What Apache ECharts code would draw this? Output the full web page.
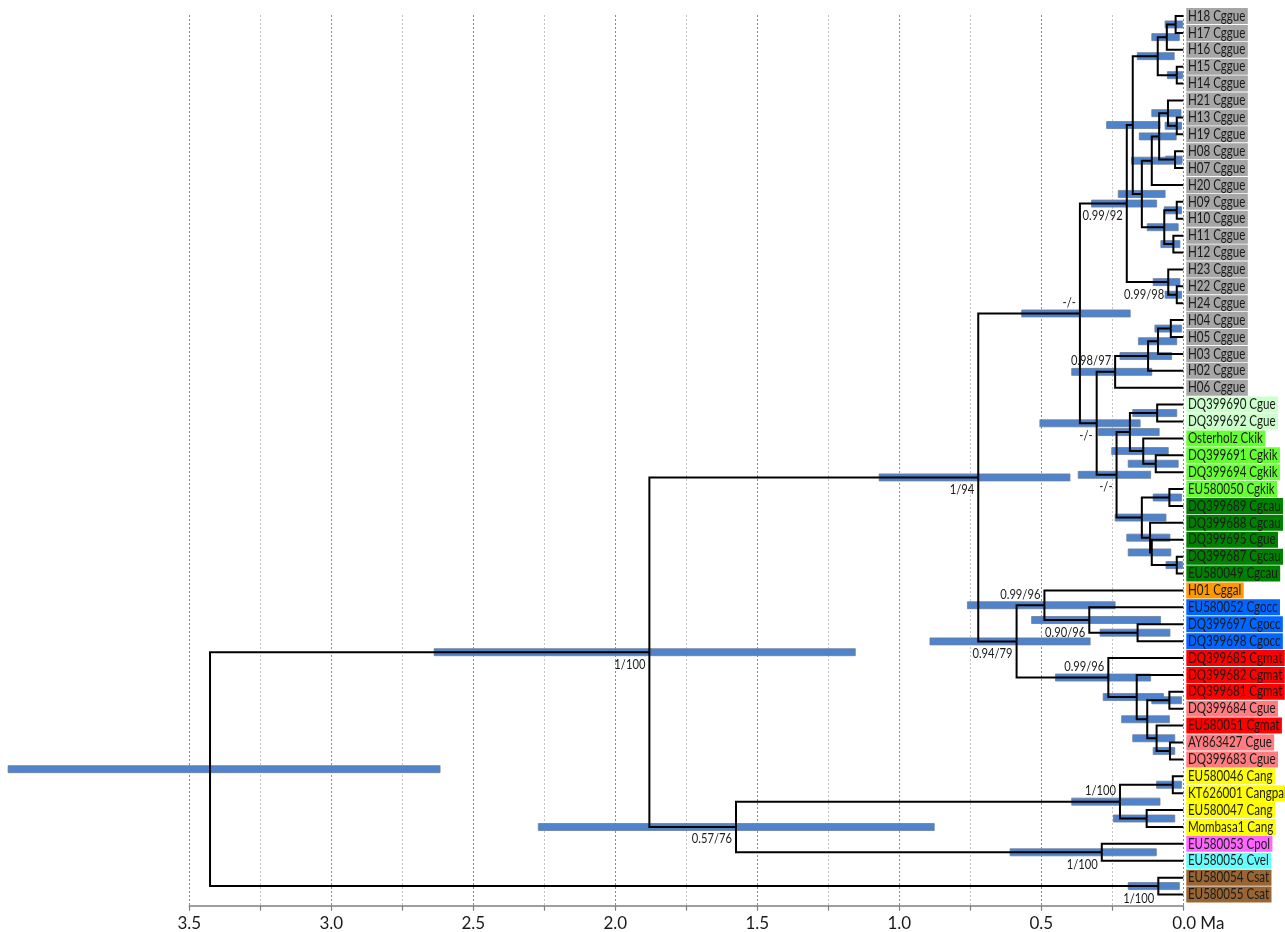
<!DOCTYPE html>
<html>
<head>
<meta charset="utf-8">
<title>Dated phylogeny</title>
<script src="https://cdn.jsdelivr.net/npm/echarts@6/dist/echarts.min.js"></script>
<style>
html, body { margin: 0; padding: 0; background: #fff; }
#main { width: 1285px; height: 932px; }
</style>
</head>
<body>
<div id="main"></div>
<script>
// tip labels, top to bottom
const leafNames = [
  'H18 Cggue', 'H17 Cggue', 'H16 Cggue', 'H15 Cggue', 'H14 Cggue', 'H21 Cggue',
  'H13 Cggue', 'H19 Cggue', 'H08 Cggue', 'H07 Cggue', 'H20 Cggue', 'H09 Cggue',
  'H10 Cggue', 'H11 Cggue', 'H12 Cggue', 'H23 Cggue', 'H22 Cggue', 'H24 Cggue',
  'H04 Cggue', 'H05 Cggue', 'H03 Cggue', 'H02 Cggue', 'H06 Cggue',
  'DQ399690 Cgue', 'DQ399692 Cgue', 'Osterholz Ckik', 'DQ399691 Cgkik', 'DQ399694 Cgkik',
  'EU580050 Cgkik', 'DQ399689 Cgcau', 'DQ399688 Cgcau', 'DQ399695 Cgue', 'DQ399687 Cgcau',
  'EU580049 Cgcau', 'H01 Cggal', 'EU580052 Cgocc', 'DQ399697 Cgocc', 'DQ399698 Cgocc',
  'DQ399685 Cgmat', 'DQ399682 Cgmat', 'DQ399681 Cgmat', 'DQ399684 Cgue', 'EU580051 Cgmat',
  'AY863427 Cgue', 'DQ399683 Cgue', 'EU580046 Cang', 'KT626001 Cangpal', 'EU580047 Cang',
  'Mombasa1 Cang', 'EU580053 Cpol', 'EU580056 Cvel', 'EU580054 Csat', 'EU580055 Csat'
];
const leafClade = [
  'hap', 'hap', 'hap', 'hap', 'hap', 'hap', 'hap', 'hap', 'hap', 'hap', 'hap', 'hap',
  'hap', 'hap', 'hap', 'hap', 'hap', 'hap', 'hap', 'hap', 'hap', 'hap', 'hap',
  'gueA', 'gueA', 'kik', 'kik', 'kik', 'kik', 'cau', 'cau', 'cau', 'cau', 'cau',
  'gal', 'occ', 'occ', 'occ', 'mat', 'mat', 'mat', 'gueB', 'mat', 'gueB', 'gueB',
  'ang', 'ang', 'ang', 'ang', 'pol', 'vel', 'sat', 'sat'
];

// internal nodes, children before parents (numbers = tips, strings = nodes)
const nodeId = [
  'a1', 'a2', 'a3', 'a4', 'b1', 'b2', 'c1', 'bc', 'd', 'e1', 'e2', 'e', 'C2', 'C1',
  'f1', 'f', 'G', 'k1', 'k2', 'k3', 'k4', 'm1', 'm2', 'm3', 'm4', 'n1', 'n2', 'n3',
  'n4', 'n5', 'DQ', 'K', 'H', 'o1', 'o2', 'o3', 'p1', 'p2', 'p3', 'p4', 'p5', 'p6',
  'O', 'Q', 's1', 's2', 's3', 's4', 'S', 'R', 'T', 'root'
];
const nodeKids = [
  [0, 1], ['a1', 2], [3, 4], ['a2', 'a3'], [6, 7], [5, 'b1'], [8, 9], ['b2', 'c1'],
  ['bc', 10], [11, 12], [13, 14], ['e1', 'e2'], ['d', 'e'], ['a4', 'C2'],
  [16, 17], [15, 'f1'], ['C1', 'f'], [18, 19], ['k1', 20], ['k2', 21], ['k3', 22],
  [23, 24], [26, 27], [25, 'm2'], ['m1', 'm3'], [28, 29], [32, 33], [31, 'n2'],
  [30, 'n3'], ['n1', 'n4'], ['m4', 'n5'], ['k4', 'DQ'], ['G', 'K'], [36, 37],
  [35, 'o1'], [34, 'o2'], [40, 41], [43, 44], [42, 'p2'], ['p1', 'p3'], [39, 'p4'],
  [38, 'p5'], ['o3', 'p6'], ['H', 'O'], [45, 46], [47, 48], ['s1', 's2'], [49, 50],
  ['s3', 's4'], ['Q', 'S'], [51, 52], ['R', 'T']
];
// node heights (Ma)
const nodeAge = [
  0.027, 0.058, 0.023, 0.090, 0.023, 0.054, 0.029, 0.085, 0.111, 0.023, 0.035, 0.067,
  0.146, 0.178, 0.023, 0.053, 0.199, 0.044, 0.089, 0.124, 0.240, 0.092, 0.097, 0.141,
  0.188, 0.049, 0.023, 0.111, 0.117, 0.146, 0.235, 0.305, 0.364, 0.161, 0.331, 0.489,
  0.049, 0.047, 0.094, 0.127, 0.164, 0.264, 0.587, 0.722, 0.037, 0.129, 0.223, 0.287,
  1.575, 1.880, 0.088, 3.427
];
// 95% HPD of node heights
const hpdLow = [
  0.002, 0.014, 0.002, 0.032, 0.006, 0.008, 0.004, 0.025, 0.006, 0.006, 0.012, 0.018,
  0.064, 0.082, 0.006, 0.012, 0.094, 0.006, 0.023, 0.041, 0.111, 0.023, 0.018, 0.053,
  0.085, 0.006, 0.002, 0.044, 0.047, 0.061, 0.115, 0.152, 0.187, 0.047, 0.080, 0.240,
  0.006, 0.030, 0.030, 0.049, 0.070, 0.115, 0.328, 0.399, 0.006, 0.030, 0.082, 0.095,
  0.877, 1.155, 0.014, 2.617
];
const hpdHigh = [
  0.064, 0.111, 0.056, 0.162, 0.064, 0.111, 0.062, 0.155, 0.182, 0.067, 0.079, 0.127,
  0.229, 0.270, 0.064, 0.106, 0.323, 0.100, 0.158, 0.223, 0.393, 0.178, 0.194, 0.252,
  0.299, 0.106, 0.061, 0.194, 0.199, 0.240, 0.370, 0.505, 0.569, 0.293, 0.534, 0.760,
  0.111, 0.106, 0.178, 0.217, 0.282, 0.450, 0.892, 1.071, 0.094, 0.246, 0.393, 0.610,
  2.271, 2.638, 0.194, 4.138
];
// posterior probability / bootstrap
const supportNode = ['G', 'f', 'k4', 'K', 'DQ', 'H', 'Q', 'o3', 'o2', 'O', 'p6', 'R', 's3', 'S', 's4', 'T'];
const supportText = ['0.99/92', '0.99/98', '0.98/97', '-/-', '-/-', '-/-', '1/94', '0.99/96', '0.90/96',
  '0.94/79', '0.99/96', '1/100', '1/100', '0.57/76', '1/100', '1/100'];

const tickValues = [0, 0.5, 1, 1.5, 2, 2.5, 3, 3.5];
const tickLabels = ['0.0 Ma', '0.5', '1.0', '1.5', '2.0', '2.5', '3.0', '3.5'];

// styles
const cladeColor = {
  hap: '#a6a6a6', gueA: '#ccffcc', kik: '#66ff33', cau: '#008000', gal: '#ff9900',
  occ: '#0066ff', mat: '#ff0000', gueB: '#ff7c80', ang: '#ffff00', pol: '#ff66ff',
  vel: '#66ffff', sat: '#996633'
};
const labelBelow = { G: 1, f: 1, K: 1, DQ: 1, Q: 1, o2: 1, O: 1, R: 1, S: 1, s4: 1, T: 1 };
const narrow = 0.8; // squeeze Lato towards the narrow original face

// tree layout: tip y = row index, node y = mid of first and last child
const info = {};
leafNames.forEach((n, i) => { info[i] = { age: 0, y: i }; });
nodeId.forEach((id, k) => {
  const kids = nodeKids[k];
  const y = (info[kids[0]].y + info[kids[kids.length - 1]].y) / 2;
  info[id] = { age: nodeAge[k], y: y };
  kids.forEach(c => { info[c].parent = id; });
});

const branchData = [];
Object.keys(info).forEach(key => {
  const n = info[key];
  if (!n.parent) return;
  const p = info[n.parent];
  branchData.push([n.age, n.y, p.age, p.y]);
});
const barData = nodeId.map((id, k) => [hpdLow[k], hpdHigh[k], info[id].y]);
const tipData = leafNames.map((n, i) => [0, i]);
const supData = supportNode.map(id => [info[id].age, info[id].y]);

const chart = echarts.init(document.getElementById('main'));

const option = {
  animation: false,
  grid: { left: 189.3, right: 101.7, top: 15, bottom: 26.3, containLabel: false, outerBoundsMode: 'none' },
  xAxis: {
    type: 'value',
    inverse: true,
    min: 0,
    max: 3.5,
    interval: 0.5,
    axisLine: { show: true, onZero: false, lineStyle: { color: '#7f7f7f', width: 1.5 } },
    axisTick: { show: true, length: 5, lineStyle: { color: '#7f7f7f', width: 1.2 } },
    minorTick: { show: true, splitNumber: 2, length: 5, lineStyle: { color: '#7f7f7f', width: 1.2 } },
    splitLine: { show: true, lineStyle: { color: '#8c8c8c', type: [2, 2], width: 1 } },
    minorSplitLine: { show: true, lineStyle: { color: '#c4c4c4', type: [2, 2], width: 1 } },
    axisLabel: {
      showMinLabel: true,
      showMaxLabel: true,
      margin: 9,
      color: '#1a1a1a',
      fontSize: 17,
      fontFamily: 'Lato, sans-serif',
      formatter: v => {
        const i = tickValues.findIndex(t => Math.abs(t - v) < 1e-6);
        const s = i < 0 ? '' : tickLabels[i];
        return v === 0 ? '{z|' + s + '}' : s;
      },
      rich: { z: { fontSize: 17, fontFamily: 'Lato, sans-serif', color: '#1a1a1a', padding: [0, 0, 0, 30] } }
    }
  },
  yAxis: { type: 'value', inverse: true, min: -0.06, max: 52.66, show: false },
  series: [
    {
      // 95% HPD bars
      type: 'custom',
      clip: false,
      z: 2,
      data: barData,
      renderItem: (params, api) => {
        const a = api.coord([api.value(1), api.value(2)]);
        const b = api.coord([api.value(0), api.value(2)]);
        return {
          type: 'rect',
          shape: { x: a[0], y: a[1] - 3.5, width: b[0] - a[0], height: 7 },
          style: { fill: '#4f83cc', stroke: '#6b7d96', lineWidth: 0.8 }
        };
      }
    },
    {
      // branches
      type: 'custom',
      clip: false,
      z: 3,
      data: branchData,
      renderItem: (params, api) => {
        const c = api.coord([api.value(0), api.value(1)]);
        const p = api.coord([api.value(2), api.value(3)]);
        return {
          type: 'polyline',
          shape: { points: [[p[0], p[1]], [p[0], c[1]], [c[0], c[1]]] },
          style: { stroke: '#000', lineWidth: 2, fill: null, lineJoin: 'miter' }
        };
      }
    },
    {
      // tip labels
      type: 'custom',
      clip: false,
      z: 4,
      data: tipData,
      renderItem: (params, api) => {
        const i = params.dataIndex;
        const c = api.coord([0, api.value(1)]);
        return {
          type: 'text',
          x: c[0] + 3,
          y: c[1],
          scaleX: narrow,
          style: {
            text: leafNames[i],
            fontSize: 14.5,
            fontFamily: 'Lato, sans-serif',
            fill: '#1a1a1a',
            verticalAlign: 'middle',
            align: 'left',
            backgroundColor: cladeColor[leafClade[i]],
            padding: [1, 3, 0, 2],
            lineHeight: 15
          }
        };
      }
    },
    {
      // support values
      type: 'custom',
      clip: false,
      z: 5,
      data: supData,
      renderItem: (params, api) => {
        const id = supportNode[params.dataIndex];
        const c = api.coord([api.value(0), api.value(1)]);
        return {
          type: 'text',
          x: c[0] - 4,
          y: c[1] + (labelBelow[id] ? 12 : -11),
          scaleX: narrow,
          style: {
            text: supportText[params.dataIndex],
            fontSize: 14,
            fontFamily: 'Lato, sans-serif',
            fill: '#1a1a1a',
            align: 'right',
            verticalAlign: 'middle'
          }
        };
      }
    }
  ]
};

chart.setOption(option);
</script>
</body>
</html>
